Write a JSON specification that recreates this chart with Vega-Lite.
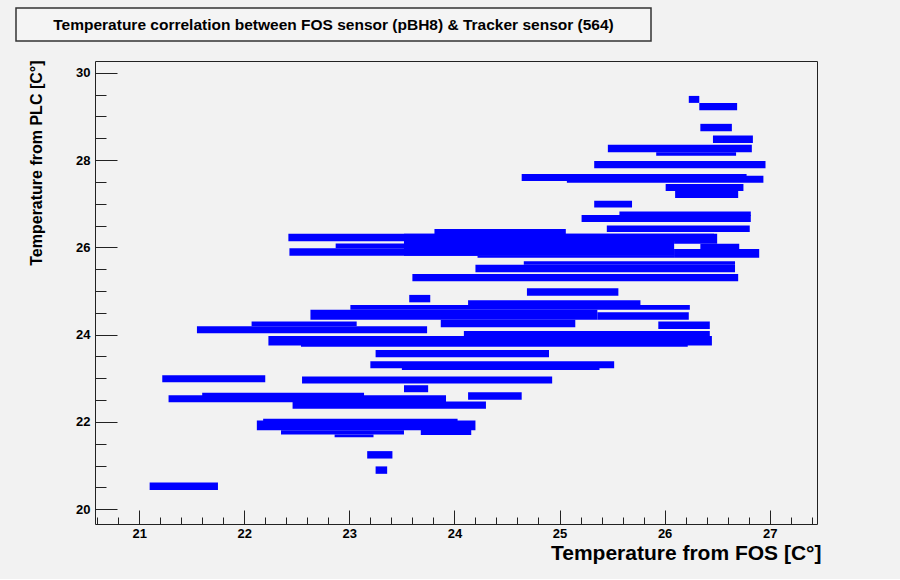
{
  "$schema": "https://vega.github.io/schema/vega-lite/v6.json",
  "background": "#f2f2f2",
  "padding": {"left": 15, "top": 7, "right": 81, "bottom": 15},
  "spacing": 17,
  "config": {"font": "Liberation Sans", "axis": {"grid": false, "domain": false}},
  "datasets": {
    "cells": [
      {"x1": 26.23, "x2": 26.33, "y1": 29.31, "y2": 29.47},
      {"x1": 26.33, "x2": 26.69, "y1": 29.14, "y2": 29.31},
      {"x1": 26.34, "x2": 26.64, "y1": 28.66, "y2": 28.83},
      {"x1": 26.46, "x2": 26.84, "y1": 28.39, "y2": 28.56},
      {"x1": 25.46, "x2": 26.83, "y1": 28.18, "y2": 28.35},
      {"x1": 25.92, "x2": 26.68, "y1": 28.10, "y2": 28.18},
      {"x1": 25.33, "x2": 26.96, "y1": 27.81, "y2": 27.98},
      {"x1": 24.64, "x2": 26.78, "y1": 27.52, "y2": 27.68},
      {"x1": 25.07, "x2": 26.94, "y1": 27.48, "y2": 27.64},
      {"x1": 26.01, "x2": 26.75, "y1": 27.29, "y2": 27.45},
      {"x1": 26.10, "x2": 26.70, "y1": 27.13, "y2": 27.29},
      {"x1": 25.33, "x2": 25.69, "y1": 26.91, "y2": 27.07},
      {"x1": 25.57, "x2": 26.82, "y1": 26.72, "y2": 26.82},
      {"x1": 25.21, "x2": 26.82, "y1": 26.58, "y2": 26.74},
      {"x1": 25.45, "x2": 26.81, "y1": 26.35, "y2": 26.50},
      {"x1": 23.81, "x2": 25.06, "y1": 26.29, "y2": 26.42},
      {"x1": 22.42, "x2": 26.47, "y1": 26.14, "y2": 26.31},
      {"x1": 23.52, "x2": 26.09, "y1": 25.81, "y2": 26.31},
      {"x1": 26.09, "x2": 26.50, "y1": 26.08, "y2": 26.31},
      {"x1": 26.34, "x2": 26.71, "y1": 25.95, "y2": 26.08},
      {"x1": 26.09, "x2": 26.90, "y1": 25.76, "y2": 25.96},
      {"x1": 22.87, "x2": 26.09, "y1": 25.98, "y2": 26.09},
      {"x1": 22.43, "x2": 26.09, "y1": 25.81, "y2": 25.98},
      {"x1": 24.22, "x2": 26.09, "y1": 25.76, "y2": 25.81},
      {"x1": 24.66, "x2": 26.67, "y1": 25.60, "y2": 25.68},
      {"x1": 24.20, "x2": 26.67, "y1": 25.43, "y2": 25.60},
      {"x1": 23.60, "x2": 26.70, "y1": 25.22, "y2": 25.39},
      {"x1": 24.69, "x2": 25.56, "y1": 24.89, "y2": 25.06},
      {"x1": 23.57, "x2": 23.77, "y1": 24.74, "y2": 24.91},
      {"x1": 24.13, "x2": 25.77, "y1": 24.68, "y2": 24.79},
      {"x1": 23.01, "x2": 26.24, "y1": 24.57, "y2": 24.68},
      {"x1": 22.63, "x2": 25.36, "y1": 24.34, "y2": 24.57},
      {"x1": 25.36, "x2": 26.23, "y1": 24.34, "y2": 24.51},
      {"x1": 22.07, "x2": 23.07, "y1": 24.19, "y2": 24.30},
      {"x1": 21.55, "x2": 23.74, "y1": 24.03, "y2": 24.19},
      {"x1": 23.87, "x2": 25.15, "y1": 24.17, "y2": 24.34},
      {"x1": 25.94, "x2": 26.43, "y1": 24.13, "y2": 24.30},
      {"x1": 24.09, "x2": 26.43, "y1": 23.92, "y2": 24.08},
      {"x1": 22.23, "x2": 26.45, "y1": 23.75, "y2": 23.97},
      {"x1": 22.54, "x2": 26.22, "y1": 23.72, "y2": 23.80},
      {"x1": 23.25, "x2": 24.90, "y1": 23.48, "y2": 23.65},
      {"x1": 23.20, "x2": 25.52, "y1": 23.23, "y2": 23.39},
      {"x1": 23.50, "x2": 25.38, "y1": 23.19, "y2": 23.33},
      {"x1": 21.22, "x2": 22.20, "y1": 22.91, "y2": 23.07},
      {"x1": 22.55, "x2": 24.93, "y1": 22.88, "y2": 23.04},
      {"x1": 23.52, "x2": 23.75, "y1": 22.68, "y2": 22.84},
      {"x1": 21.28, "x2": 23.92, "y1": 22.45, "y2": 22.61},
      {"x1": 21.60, "x2": 23.14, "y1": 22.57, "y2": 22.67},
      {"x1": 24.13, "x2": 24.64, "y1": 22.51, "y2": 22.68},
      {"x1": 22.46, "x2": 24.30, "y1": 22.30, "y2": 22.47},
      {"x1": 22.18, "x2": 24.03, "y1": 21.96, "y2": 22.07},
      {"x1": 22.12, "x2": 24.20, "y1": 21.81, "y2": 22.03},
      {"x1": 22.35, "x2": 23.52, "y1": 21.71, "y2": 21.81},
      {"x1": 23.68, "x2": 24.16, "y1": 21.70, "y2": 21.86},
      {"x1": 22.86, "x2": 23.23, "y1": 21.65, "y2": 21.71},
      {"x1": 23.17, "x2": 23.41, "y1": 21.16, "y2": 21.33},
      {"x1": 23.25, "x2": 23.36, "y1": 20.81, "y2": 20.98},
      {"x1": 21.10, "x2": 21.75, "y1": 20.44, "y2": 20.61}
    ]
  },
  "vconcat": [
    {
      "width": 635,
      "height": 33,
      "view": {"stroke": "#333333", "strokeWidth": 1.5, "fill": "#f4f4f4"},
      "data": {"values": [{"label": "Temperature correlation between FOS sensor (pBH8) & Tracker sensor (564)"}]},
      "mark": {"type": "text", "font": "Liberation Sans", "fontWeight": "bold", "fontSize": 15.5, "color": "#000000"},
      "encoding": {"text": {"field": "label", "type": "nominal"}}
    },
    {
      "spacing": 10,
      "hconcat": [
        {
          "width": 1,
          "height": 1,
          "view": {"stroke": null},
          "data": {"values": []},
          "mark": {"type": "text"},
          "encoding": {}
        },
        {
          "width": 722,
          "height": 463,
          "view": {"stroke": "#222222", "strokeWidth": 1},
          "data": {"name": "cells"},
          "resolve": {"axis": {"x": "independent", "y": "independent"}},
          "layer": [
            {
              "mark": {"type": "rect", "color": "#0000ff"},
              "encoding": {
                "x": {
                  "field": "x1", "type": "quantitative",
                  "scale": {"domain": [20.58, 27.45], "nice": false, "zero": false},
                  "axis": {
                    "orient": "bottom", "values": [21, 22, 23, 24, 25, 26, 27], "ticks": false,
                    "labelPadding": 3, "labelFontSize": 13, "labelFontWeight": "bold", "labelColor": "#000000",
                    "title": "Temperature from FOS [C°]", "titleFontSize": 21, "titleFontWeight": "bold",
                    "titleColor": "#000000", "titleAnchor": "end", "titleAlign": "right",
                    "titleBaseline": "alphabetic", "titleY": 35, "titleX": 726
                  }
                },
                "x2": {"field": "x2"},
                "y": {
                  "field": "y1", "type": "quantitative",
                  "scale": {"domain": [19.66, 30.27], "nice": false, "zero": false},
                  "axis": {
                    "orient": "left", "values": [20, 22, 24, 26, 28, 30], "ticks": false,
                    "labelPadding": 5, "labelFontSize": 13, "labelFontWeight": "bold", "labelColor": "#000000",
                    "title": "Temperature from PLC [C°]", "titleFontSize": 16, "titleFontWeight": "bold",
                    "titleColor": "#000000", "titleAnchor": "end", "titleAlign": "right", "titleAngle": -90,
                    "titleBaseline": "top", "titleX": -67, "titleY": -1
                  }
                },
                "y2": {"field": "y2"}
              }
            },
            {
              "mark": {"type": "rect", "opacity": 0},
              "encoding": {
                "x": {
                  "field": "x1", "type": "quantitative",
                  "axis": {"orient": "bottom", "values": [21, 22, 23, 24, 25, 26, 27], "labels": false, "tickSize": -14, "tickColor": "#222222", "title": null}
                },
                "x2": {"field": "x2"},
                "y": {
                  "field": "y1", "type": "quantitative",
                  "axis": {"orient": "left", "values": [20, 22, 24, 26, 28, 30], "labels": false, "tickSize": -22, "tickColor": "#222222", "title": null}
                },
                "y2": {"field": "y2"}
              }
            },
            {
              "mark": {"type": "rect", "opacity": 0},
              "encoding": {
                "x": {
                  "field": "x1", "type": "quantitative",
                  "axis": {"orient": "bottom", "values": [20.6, 20.8, 21.2, 21.4, 21.6, 21.8, 22.2, 22.4, 22.6, 22.8, 23.2, 23.4, 23.6, 23.8, 24.2, 24.4, 24.6, 24.8, 25.2, 25.4, 25.6, 25.8, 26.2, 26.4, 26.6, 26.8, 27.2, 27.4], "labels": false, "tickSize": -7, "tickColor": "#222222", "title": null}
                },
                "x2": {"field": "x2"},
                "y": {
                  "field": "y1", "type": "quantitative",
                  "axis": {"orient": "left", "values": [20.5, 21, 21.5, 22.5, 23, 23.5, 24.5, 25, 25.5, 26.5, 27, 27.5, 28.5, 29, 29.5], "labels": false, "tickSize": -11, "tickColor": "#222222", "title": null}
                },
                "y2": {"field": "y2"}
              }
            }
          ]
        }
      ]
    }
  ]
}
